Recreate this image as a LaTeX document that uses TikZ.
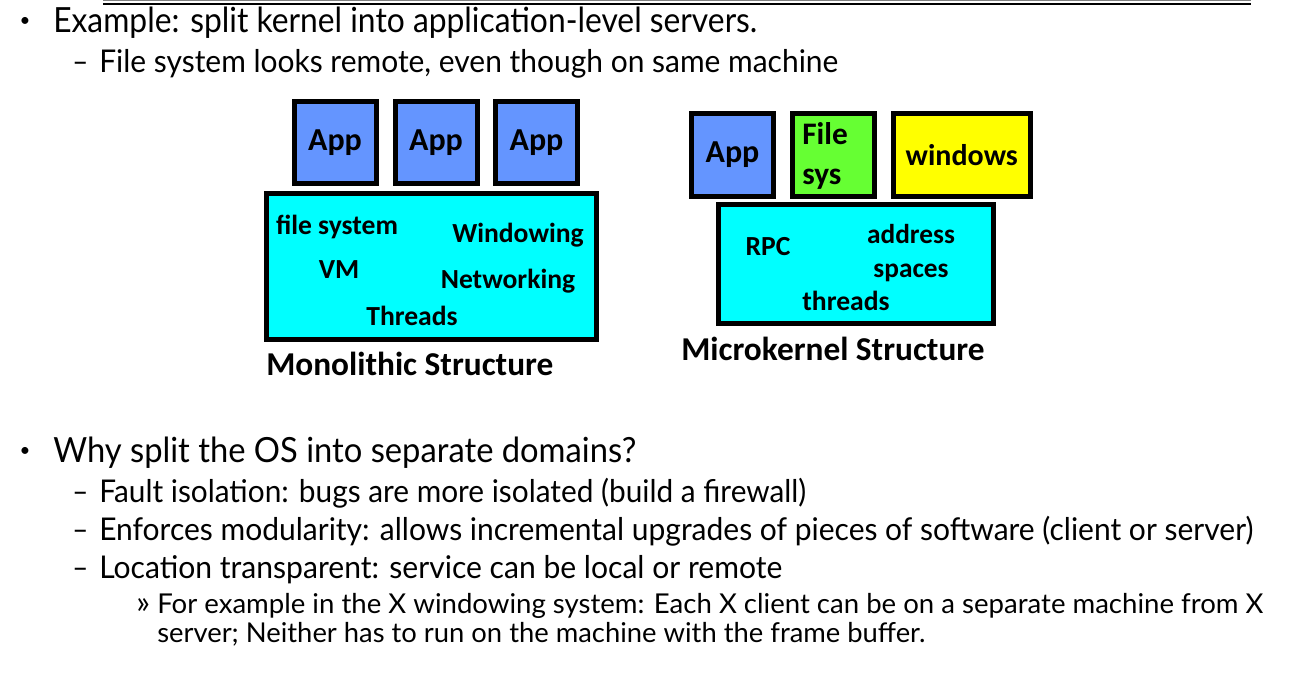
\documentclass[tikz,border=0pt]{standalone}
\usepackage{fontspec}
\setmainfont{Lato}
\newfontfamily\cbf{Carlito}
\usepackage{graphicx}
\newdimen\mypx \mypx=0.75pt
\newcommand\fitx[2]{\resizebox{#1\mypx}{\height}{#2}}
\definecolor{appblue}{RGB}{100,149,255}
\definecolor{fsgreen}{RGB}{102,255,51}
\definecolor{kcyan}{RGB}{0,255,255}
\definecolor{winyel}{RGB}{255,255,0}
\tikzset{
  boxx/.style={draw=black, line width=3.75pt, inner sep=0pt, rectangle},
  lbl/.style={inner sep=0pt, font=\cbf\bfseries\fontsize{20.7}{22}\selectfont},
  biglbl/.style={inner sep=0pt, font=\cbf\bfseries\fontsize{24}{26}\selectfont},
  captxt/.style={inner sep=0pt, anchor=base west, font=\cbf\bfseries\fontsize{25}{27}\selectfont},
  lone/.style={inner sep=0pt, anchor=base west, font=\fontsize{26}{30}\selectfont},
  ltwo/.style={inner sep=0pt, anchor=base west, font=\fontsize{23.5}{28}\selectfont},
  lthree/.style={inner sep=0pt, anchor=base west, font=\fontsize{20.5}{24}\selectfont},
  bul/.style={inner sep=0pt, anchor=center, font=\fontsize{14}{16}\selectfont},
}
\begin{document}
\begin{tikzpicture}[x=0.75pt,y=-0.75pt]
\fill[white] (0,0) rectangle (1295,673);
\useasboundingbox (0,0) rectangle (1295,673);
% top rule
\draw[line width=0.75pt, gray] (103,1) -- (1251,1);
\draw[line width=1.6pt, black] (103,3.6) -- (1251,3.6);

% top text
\node[bul] (b1) at (25,22) {•};
\node[lone] (t1) at (53,33) {\fitx{704}{Example: split kernel into application-level servers.}};
\node[ltwo] (d1) at (72,73) {\fitx{16}{–}};
\node[ltwo] (t2) at (99,73) {\fitx{739}{File system looks remote, even though on same machine}};

% monolithic
\node[boxx, fill=appblue, minimum width=61.5pt, minimum height=61.5pt] (app1) at (335,143) {};
\node[boxx, fill=appblue, minimum width=61.5pt, minimum height=61.5pt] (app2) at (436,143) {};
\node[boxx, fill=appblue, minimum width=61.5pt, minimum height=61.5pt] (app3) at (536.5,143) {};
\node[biglbl] (app1t) at (app1.center) {App};
\node[biglbl] (app2t) at (app2.center) {App};
\node[biglbl] (app3t) at (app3.center) {App};
\node[boxx, fill=kcyan, minimum width=247.125pt, minimum height=109.875pt] (mono) at (431.25,266.75) {};
\node[lbl] (fs) at (337,227) {file system};
\node[lbl] (win) at (518,235) {Windowing};
\node[lbl] (vm) at (339,270) {VM};
\node[lbl] (net) at (508,281) {Networking};
\node[lbl] (thr) at (412,316) {Threads};
\node[captxt] (monocap) at (266,376) {Monolithic Structure};

% microkernel
\node[boxx, fill=appblue, minimum width=61.5pt, minimum height=62.25pt] (mapp) at (732.5,155) {};
\node[biglbl] (mappt) at (mapp.center) {App};
\node[boxx, fill=fsgreen, minimum width=61.125pt, minimum height=62.25pt] (mfs) at (833.25,155) {};
\node[biglbl, align=left, anchor=west, font=\cbf\bfseries\fontsize{23.5}{30}\selectfont] (mfst) at (802,156) {File\\sys};
\node[boxx, fill=winyel, minimum width=102.375pt, minimum height=62.25pt] (mwin) at (961.75,155) {};
\node[biglbl, font=\cbf\bfseries\fontsize{22.5}{24}\selectfont] (mwint) at (mwin.center) {windows};
\node[boxx, fill=kcyan, minimum width=205.875pt, minimum height=89.25pt] (micro) at (855.75,264.5) {};
\node[lbl] (rpc) at (768,247) {RPC};
\node[lbl, align=center, font=\cbf\bfseries\fontsize{20.5}{25.5}\selectfont] (addr) at (911,253) {address\\spaces};
\node[lbl] (mthr) at (846,301) {threads};
\node[captxt] (microcap) at (681,360) {Microkernel Structure};

% bottom text
\node[bul] (b2) at (25,452) {•};
\node[lone] (t3) at (53,462) {\fitx{583}{Why split the OS into separate domains?}};
\node[ltwo] (d2) at (72,502) {\fitx{16}{–}};
\node[ltwo] (t4) at (99,502) {\fitx{707}{Fault isolation: bugs are more isolated (build a firewall)}};
\node[ltwo] (d3) at (72,540) {\fitx{16}{–}};
\node[ltwo] (t5) at (99,540) {\fitx{1154}{Enforces modularity: allows incremental upgrades of pieces of software (client or server)}};
\node[ltwo] (d4) at (72,578) {\fitx{16}{–}};
\node[ltwo] (t6) at (99,578) {\fitx{683}{Location transparent: service can be local or remote}};
\node[lthree] (d5) at (136,613) {\fontsize{24}{26}\selectfont »};
\node[lthree] (t7) at (157,613) {\fitx{1106}{For example in the X windowing system: Each X client can be on a separate machine from X}};
\node[lthree] (t8) at (157,642) {\fitx{768}{server; Neither has to run on the machine with the frame buffer.}};
\end{tikzpicture}
\end{document}
